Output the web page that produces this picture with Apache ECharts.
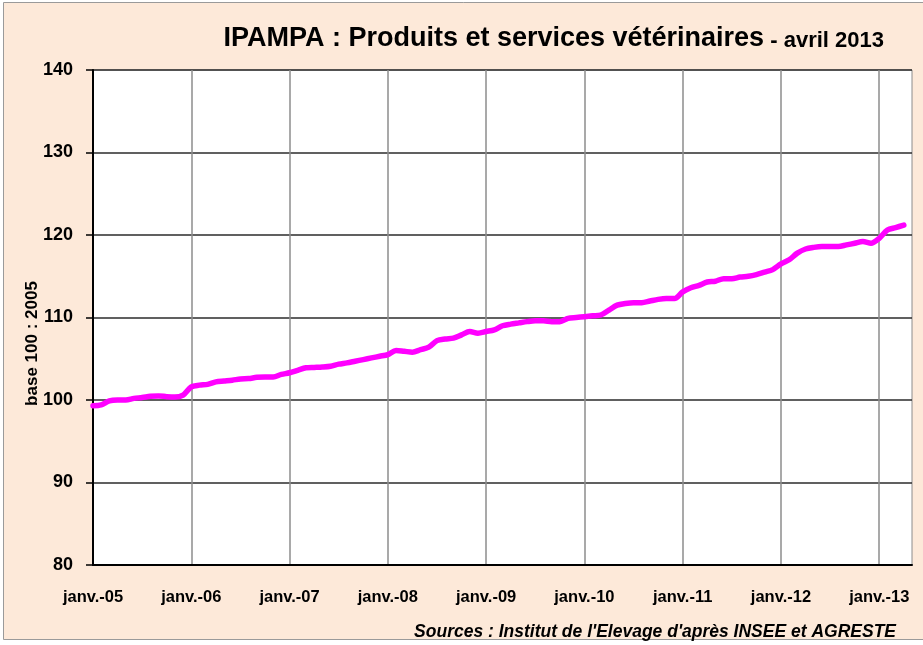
<!DOCTYPE html>
<html>
<head>
<meta charset="utf-8">
<script src="https://cdn.jsdelivr.net/npm/echarts@6/dist/echarts.min.js"></script>
<style>
html,body{margin:0;padding:0;background:#fff;}
#c{width:923px;height:645px;}
</style>
</head>
<body>
<div id="c"></div>
<script>
// Month labels (janv.-05 ... mai-13; last category is the axis end)
const monthNames = ['janv.','févr.','mars','avr.','mai','juin','juil.','août','sept.','oct.','nov.','déc.'];
const years = ['05','06','07','08','09','10','11','12','13'];
const categories = [];
years.forEach(y => monthNames.forEach(m => categories.push(m + '-' + y)));
categories.length = 101;

// IPAMPA vétérinaire, base 100 : 2005, janv. 2005 - avril 2013
const ipampa = [
  99.3, 99.4, 99.9, 100.0, 100.0, 100.2, 100.3, 100.45, 100.5, 100.4, 100.35, 100.6,
  101.6, 101.8, 101.9, 102.2, 102.3, 102.4, 102.55, 102.6, 102.75, 102.8, 102.8, 103.1,
  103.3, 103.6, 103.9, 103.95, 104.0, 104.1, 104.35, 104.5, 104.7, 104.9, 105.1, 105.3,
  105.5, 106.0, 105.9, 105.8, 106.1, 106.4, 107.2, 107.4, 107.5, 107.9, 108.3, 108.1,
  108.3, 108.5, 109.0, 109.2, 109.35, 109.5, 109.6, 109.6, 109.5, 109.5, 109.9, 110.0,
  110.1, 110.2, 110.3, 110.9, 111.5, 111.7, 111.8, 111.8, 112.0, 112.2, 112.3, 112.3,
  113.1, 113.6, 113.9, 114.3, 114.4, 114.7, 114.7, 114.9, 115.0, 115.2, 115.5, 115.8,
  116.5, 117.0, 117.8, 118.3, 118.5, 118.6, 118.6, 118.6, 118.8, 119.0, 119.2, 119.0,
  119.6, 120.6, 120.9, 121.2
];

const yTicks = {min: 80, max: 140, step: 10};

const chart = echarts.init(document.getElementById('c'), null, {renderer: 'canvas'});
const FONT = 'Liberation Sans, Arial, sans-serif';
chart.setOption({
  animation: false,
  backgroundColor: '#fff',
  graphic: [{
    type: 'rect', z: -10, silent: true,
    shape: {x: 3.5, y: 2.5, width: 930, height: 637},
    style: {fill: '#FDE9D9', stroke: '#9a9a9a', lineWidth: 1}
  }],
  title: [{
    text: '{a|IPAMPA : Produits et services vétérinaires}{b| - avril 2013}',
    right: 34, top: 20,
    textStyle: {
      rich: {
        a: {fontFamily: FONT, fontWeight: 'bold', fontSize: 27, color: '#000'},
        b: {fontFamily: FONT, fontWeight: 'bold', fontSize: 22, color: '#000', padding: [4,0,0,0]}
      }
    }
  }, {
    text: "Sources : Institut de l'Elevage d'après INSEE et AGRESTE",
    right: 22, top: 618,
    textStyle: {fontFamily: FONT, fontWeight: 'bold', fontStyle: 'italic', fontSize: 17.5, color: '#000'}
  }],
  grid: {
    left: 93, right: 11, top: 70, bottom: 80,
    show: true, backgroundColor: '#fff', borderColor: '#8c8c8c', borderWidth: 1
  },
  xAxis: {
    type: 'category',
    data: categories,
    boundaryGap: false,
    axisLine: {lineStyle: {color: '#000', width: 2}},
    axisTick: {show: false},
    axisLabel: {
      interval: 11, margin: 24,
      fontFamily: FONT, fontWeight: 'bold', fontSize: 16.5, color: '#000'
    },
    splitLine: {show: true, interval: 11, lineStyle: {color: '#8c8c8c', width: 1.5}}
  },
  yAxis: {
    type: 'value',
    min: yTicks.min, max: yTicks.max, interval: yTicks.step,
    name: 'base 100 : 2005',
    nameLocation: 'middle', nameRotate: 90, nameGap: 52,
    nameMoveOverlap: false,
    nameTextStyle: {fontFamily: FONT, fontWeight: 'bold', fontSize: 17, color: '#000', padding: [0,52,0,0]},
    axisLine: {show: true, lineStyle: {color: '#000', width: 2}},
    axisTick: {show: true, length: 7, lineStyle: {color: '#000', width: 1.5}},
    axisLabel: {margin: 20, fontFamily: FONT, fontWeight: 'bold', fontSize: 18, color: '#000'},
    splitLine: {show: true, lineStyle: {color: '#2b2b2b', width: 1.5}}
  },
  series: [{
    type: 'line',
    data: ipampa,
    smooth: 0.3,
    showSymbol: false,
    lineStyle: {color: '#FF00FF', width: 5.5, cap: 'round', join: 'round'},
    itemStyle: {color: '#FF00FF'}
  }]
});
</script>
</body>
</html>
